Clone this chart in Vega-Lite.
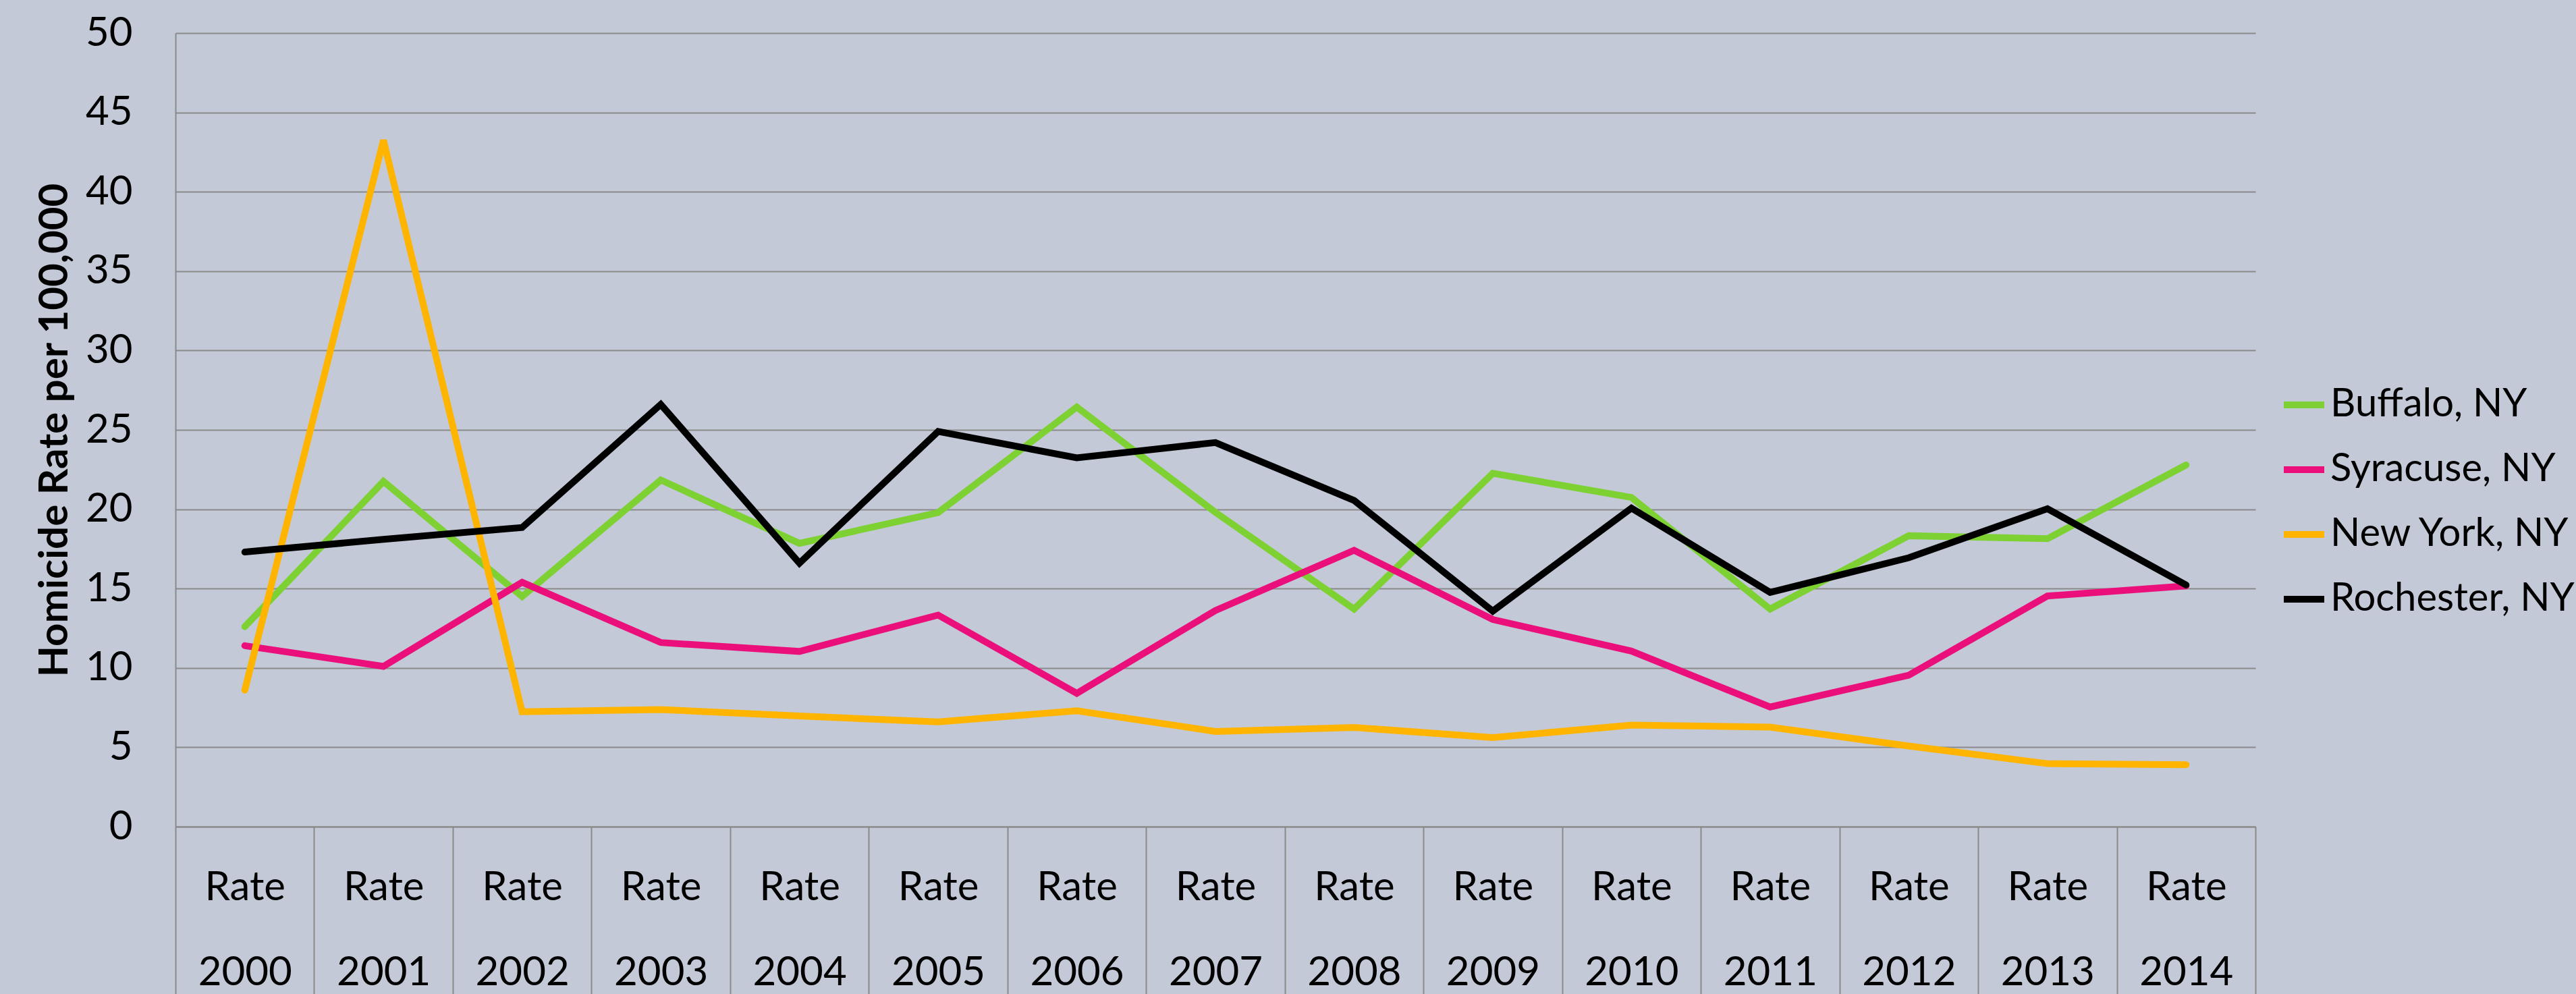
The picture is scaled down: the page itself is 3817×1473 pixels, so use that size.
{
  "$schema": "https://vega.github.io/schema/vega-lite/v6.json",
  "width": 3082,
  "height": 1176,
  "autosize": {"type": "none"},
  "padding": {"left": 260, "top": 49, "right": 475, "bottom": 248},
  "background": "#C3C9D6",
  "config": {
    "view": {"stroke": null},
    "font": "Lato"
  },
  "data": {
    "values": [
      {"year": "2000", "city": "Buffalo, NY", "rate": 12.6},
      {"year": "2001", "city": "Buffalo, NY", "rate": 21.75},
      {"year": "2002", "city": "Buffalo, NY", "rate": 14.5},
      {"year": "2003", "city": "Buffalo, NY", "rate": 21.84},
      {"year": "2004", "city": "Buffalo, NY", "rate": 17.85},
      {"year": "2005", "city": "Buffalo, NY", "rate": 19.79},
      {"year": "2006", "city": "Buffalo, NY", "rate": 26.43},
      {"year": "2007", "city": "Buffalo, NY", "rate": 19.8},
      {"year": "2008", "city": "Buffalo, NY", "rate": 13.71},
      {"year": "2009", "city": "Buffalo, NY", "rate": 22.26},
      {"year": "2010", "city": "Buffalo, NY", "rate": 20.74},
      {"year": "2011", "city": "Buffalo, NY", "rate": 13.71},
      {"year": "2012", "city": "Buffalo, NY", "rate": 18.33},
      {"year": "2013", "city": "Buffalo, NY", "rate": 18.14},
      {"year": "2014", "city": "Buffalo, NY", "rate": 22.79},
      {"year": "2000", "city": "Syracuse, NY", "rate": 11.4},
      {"year": "2001", "city": "Syracuse, NY", "rate": 10.1},
      {"year": "2002", "city": "Syracuse, NY", "rate": 15.4},
      {"year": "2003", "city": "Syracuse, NY", "rate": 11.6},
      {"year": "2004", "city": "Syracuse, NY", "rate": 11.04},
      {"year": "2005", "city": "Syracuse, NY", "rate": 13.33},
      {"year": "2006", "city": "Syracuse, NY", "rate": 8.4},
      {"year": "2007", "city": "Syracuse, NY", "rate": 13.62},
      {"year": "2008", "city": "Syracuse, NY", "rate": 17.41},
      {"year": "2009", "city": "Syracuse, NY", "rate": 13.05},
      {"year": "2010", "city": "Syracuse, NY", "rate": 11.06},
      {"year": "2011", "city": "Syracuse, NY", "rate": 7.54},
      {"year": "2012", "city": "Syracuse, NY", "rate": 9.54},
      {"year": "2013", "city": "Syracuse, NY", "rate": 14.53},
      {"year": "2014", "city": "Syracuse, NY", "rate": 15.17},
      {"year": "2000", "city": "New York, NY", "rate": 8.6},
      {"year": "2001", "city": "New York, NY", "rate": 43.25},
      {"year": "2002", "city": "New York, NY", "rate": 7.24},
      {"year": "2003", "city": "New York, NY", "rate": 7.38},
      {"year": "2004", "city": "New York, NY", "rate": 6.97},
      {"year": "2005", "city": "New York, NY", "rate": 6.6},
      {"year": "2006", "city": "New York, NY", "rate": 7.3},
      {"year": "2007", "city": "New York, NY", "rate": 6.0},
      {"year": "2008", "city": "New York, NY", "rate": 6.25},
      {"year": "2009", "city": "New York, NY", "rate": 5.61},
      {"year": "2010", "city": "New York, NY", "rate": 6.4},
      {"year": "2011", "city": "New York, NY", "rate": 6.27},
      {"year": "2012", "city": "New York, NY", "rate": 5.08},
      {"year": "2013", "city": "New York, NY", "rate": 3.97},
      {"year": "2014", "city": "New York, NY", "rate": 3.9},
      {"year": "2000", "city": "Rochester, NY", "rate": 17.3},
      {"year": "2001", "city": "Rochester, NY", "rate": 18.1},
      {"year": "2002", "city": "Rochester, NY", "rate": 18.85},
      {"year": "2003", "city": "Rochester, NY", "rate": 26.6},
      {"year": "2004", "city": "Rochester, NY", "rate": 16.6},
      {"year": "2005", "city": "Rochester, NY", "rate": 24.9},
      {"year": "2006", "city": "Rochester, NY", "rate": 23.24},
      {"year": "2007", "city": "Rochester, NY", "rate": 24.2},
      {"year": "2008", "city": "Rochester, NY", "rate": 20.55},
      {"year": "2009", "city": "Rochester, NY", "rate": 13.58},
      {"year": "2010", "city": "Rochester, NY", "rate": 20.07},
      {"year": "2011", "city": "Rochester, NY", "rate": 14.76},
      {"year": "2012", "city": "Rochester, NY", "rate": 16.94},
      {"year": "2013", "city": "Rochester, NY", "rate": 20.03},
      {"year": "2014", "city": "Rochester, NY", "rate": 15.23}
    ]
  },
  "mark": {"type": "line", "strokeWidth": 10, "strokeCap": "round", "strokeJoin": "miter"},
  "encoding": {
    "x": {
      "field": "year",
      "type": "ordinal",
      "scale": {"type": "band", "paddingInner": 0, "paddingOuter": 0},
      "axis": {
        "title": null,
        "labelAngle": 0,
        "labelExpr": "datum.label ? ['Rate', datum.label] : ''",
        "labelFontSize": 60,
        "labelColor": "#000000",
        "labelLineHeight": 126,
        "labelBaseline": "top",
        "labelPadding": -199,
        "tickBand": "extent",
        "tickSize": 260,
        "tickWidth": 2,
        "tickColor": "#8A8A8A",
        "domainColor": "#8A8A8A",
        "domainWidth": 2,
        "grid": false
      }
    },
    "y": {
      "field": "rate",
      "type": "quantitative",
      "scale": {"domain": [0, 50], "nice": false},
      "axis": {
        "title": "Homicide Rate per 100,000",
        "titleFontSize": 60,
        "titleFontWeight": "bold",
        "titleColor": "#000000",
        "titlePadding": 14,
        "values": [0, 5, 10, 15, 20, 25, 30, 35, 40, 45, 50],
        "labelFontSize": 60,
        "labelColor": "#000000",
        "labelPadding": 64,
        "ticks": false,
        "grid": true,
        "gridColor": "#8A8A8A",
        "gridWidth": 2,
        "gridOpacity": 1,
        "domainColor": "#8A8A8A",
        "domainWidth": 2
      }
    },
    "color": {
      "field": "city",
      "type": "nominal",
      "sort": null,
      "scale": {
        "domain": ["Buffalo, NY", "Syracuse, NY", "New York, NY", "Rochester, NY"],
        "range": ["#7ED132", "#EA0F7A", "#FFB400", "#000000"]
      },
      "legend": {
        "title": null,
        "orient": "none",
        "legendX": 3119,
        "legendY": 516,
        "symbolType": "stroke",
        "symbolSize": 3600,
        "symbolStrokeWidth": 10,
        "labelFontSize": 58,
        "labelColor": "#000000",
        "labelOffset": 4,
        "rowPadding": 32,
        "labelLimit": 1000
      }
    }
  }
}
